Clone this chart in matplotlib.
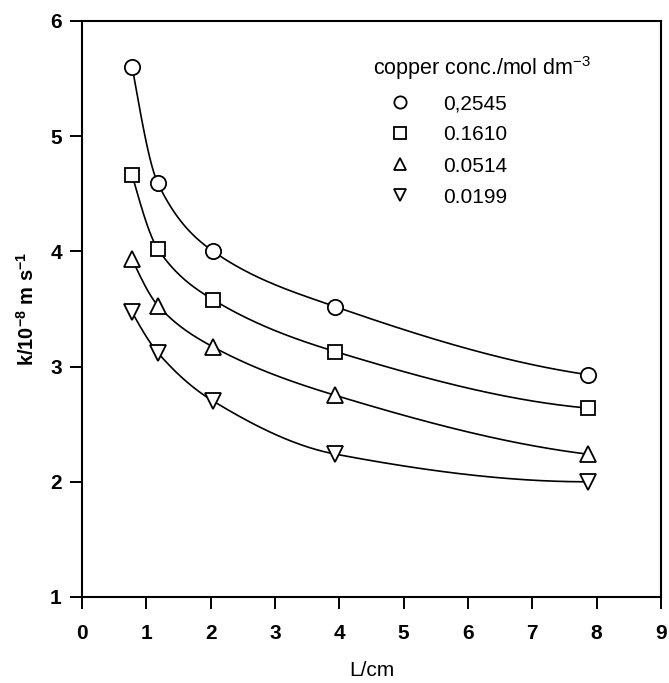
import numpy as np
import matplotlib
matplotlib.use("Agg")
import matplotlib.pyplot as plt

plt.rcParams['font.family'] = ['Liberation Sans', 'DejaVu Sans']

L_cm = [0.78, 1.18, 2.04, 3.94, 7.86]
series_labels = ["0,2545", "0.1610", "0.0514", "0.0199"]
k_0_2545 = [5.60, 4.59, 4.00, 3.52, 2.93]
k_0_1610 = [4.66, 4.02, 3.58, 3.13, 2.64]
k_0_0514 = [3.93, 3.53, 3.17, 2.75, 2.24]
k_0_0199 = [3.47, 3.12, 2.70, 2.24, 2.00]
markers = ['o', 's', '^', 'v']
x_ticks = [0, 1, 2, 3, 4, 5, 6, 7, 8, 9]
y_ticks = [1, 2, 3, 4, 5, 6]


def pchip(x, y, xs):
    x = np.asarray(x, float); y = np.asarray(y, float)
    h = np.diff(x); d = np.diff(y) / h
    n = len(x); m = np.zeros(n)
    for i in range(1, n - 1):
        if d[i - 1] * d[i] > 0:
            w1 = 2 * h[i] + h[i - 1]; w2 = h[i] + 2 * h[i - 1]
            m[i] = (w1 + w2) / (w1 / d[i - 1] + w2 / d[i])
    m[0] = ((2 * h[0] + h[1]) * d[0] - h[0] * d[1]) / (h[0] + h[1])
    if np.sign(m[0]) != np.sign(d[0]): m[0] = 0
    m[-1] = ((2 * h[-1] + h[-2]) * d[-1] - h[-1] * d[-2]) / (h[-1] + h[-2])
    if np.sign(m[-1]) != np.sign(d[-1]): m[-1] = 0
    ys = np.empty_like(xs)
    for j, xv in enumerate(xs):
        i = min(max(np.searchsorted(x, xv) - 1, 0), n - 2)
        t = (xv - x[i]) / h[i]
        h00 = 2 * t**3 - 3 * t**2 + 1; h10 = t**3 - 2 * t**2 + t
        h01 = -2 * t**3 + 3 * t**2; h11 = t**3 - t**2
        ys[j] = h00 * y[i] + h10 * h[i] * m[i] + h01 * y[i + 1] + h11 * h[i] * m[i + 1]
    return ys


fig = plt.figure(figsize=(6.69, 6.83), dpi=100)
ax = fig.add_axes([82 / 669, 86 / 683, 579 / 669, 576 / 683])

xs = np.linspace(L_cm[0], L_cm[-1], 400)
for ys_data, mk, lab in zip([k_0_2545, k_0_1610, k_0_0514, k_0_0199], markers, series_labels):
    ax.plot(xs, pchip(L_cm, ys_data, xs), color='black', lw=1.2, zorder=2)
    ax.plot(L_cm, ys_data, linestyle='none', marker=mk, markersize=11 if mk != 's' else 10,
            markerfacecolor='white', markeredgecolor='black', markeredgewidth=1.3,
            label=lab, zorder=3)

ax.set_xlim(0, 9)
ax.set_ylim(1, 6)
ax.set_xticks(x_ticks)
ax.set_yticks(y_ticks)
ax.tick_params(axis='both', direction='out', length=8.5, width=1.4, labelsize=15)
ax.tick_params(axis='x', pad=11)
ax.tick_params(axis='y', pad=6)
for lbl in ax.get_xticklabels() + ax.get_yticklabels():
    lbl.set_fontweight('bold')
for s in ax.spines.values():
    s.set_linewidth(1.5)

ax.set_xlabel('L/cm', fontsize=15, labelpad=13)
ax.set_ylabel(r'k/10$^{\mathregular{-8}}$ m s$^{\mathregular{-1}}$', fontsize=14.5, fontweight='bold', labelpad=9)

leg = ax.legend(title=r'copper conc./mol dm$^{\mathregular{-3}}$', frameon=False, fontsize=15,
                title_fontsize=15.5, loc='upper left', bbox_to_anchor=(0.5026, 0.942),
                markerscale=0.8, handlelength=2.6, handletextpad=0.75, labelspacing=0.58,
                borderaxespad=0, borderpad=0)
leg._legend_box.align = 'left'

fig.savefig('out.png', dpi=100)
